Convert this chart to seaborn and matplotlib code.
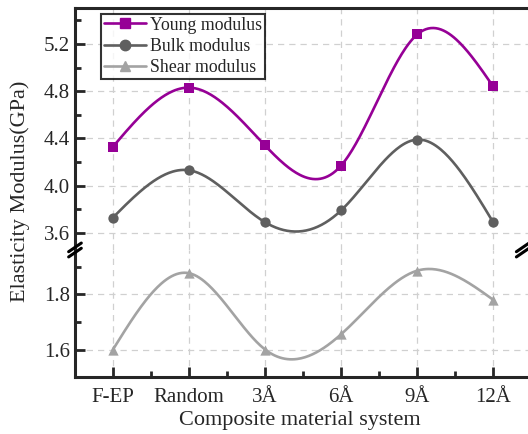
import numpy as np
import pandas as pd
import matplotlib
matplotlib.use("Agg")
import matplotlib.pyplot as plt
from matplotlib.lines import Line2D
from matplotlib.ticker import MultipleLocator
import seaborn as sns

# data
systems = ["F-EP", "Random", "3Å", "6Å", "9Å", "12Å"]
young = [4.33, 4.83, 4.34, 4.17, 5.28, 4.84]
bulk = [3.73, 4.13, 3.69, 3.79, 4.39, 3.69]
shear = [1.60, 1.876, 1.60, 1.655, 1.885, 1.78]

colors = {"Young modulus": "#960096", "Bulk modulus": "#5f5f5f", "Shear modulus": "#a3a3a3"}
markers = {"Young modulus": "s", "Bulk modulus": "o", "Shear modulus": "^"}


def natural_spline(x, y, n=300):
    # plain natural cubic spline, no scipy needed
    x = np.asarray(x, float)
    y = np.asarray(y, float)
    k = len(x)
    h = np.diff(x)
    A = np.zeros((k, k))
    r = np.zeros(k)
    A[0, 0] = A[-1, -1] = 1
    for i in range(1, k - 1):
        A[i, i - 1] = h[i - 1]
        A[i, i] = 2 * (h[i - 1] + h[i])
        A[i, i + 1] = h[i]
        r[i] = 3 * ((y[i + 1] - y[i]) / h[i] - (y[i] - y[i - 1]) / h[i - 1])
    c = np.linalg.solve(A, r)
    xs = np.linspace(x[0], x[-1], n)
    ys = np.empty_like(xs)
    for j, xv in enumerate(xs):
        i = min(np.searchsorted(x, xv, side="right") - 1, k - 2)
        b = (y[i + 1] - y[i]) / h[i] - h[i] * (2 * c[i] + c[i + 1]) / 3
        d = (c[i + 1] - c[i]) / (3 * h[i])
        t = xv - x[i]
        ys[j] = y[i] + b * t + c[i] * t ** 2 + d * t ** 3
    return xs, ys


sns.set_style("ticks")
plt.rcParams["font.family"] = ["Liberation Serif", "DejaVu Serif"]
plt.rcParams["xtick.direction"] = "in"
plt.rcParams["ytick.direction"] = "in"

fig = plt.figure(figsize=(5.28, 4.34), dpi=100)
ax_top = fig.add_axes([0.142, 0.424, 0.864, 0.558])
ax_bot = fig.add_axes([0.142, 0.131, 0.864, 0.293])

xpos = np.arange(len(systems))
series = [("Young modulus", young, ax_top), ("Bulk modulus", bulk, ax_top),
          ("Shear modulus", shear, ax_bot)]

for name, vals, ax in series:
    xs, ys = natural_spline(xpos, vals)
    curve = pd.DataFrame({"x": xs, "y": ys})
    pts = pd.DataFrame({"x": xpos, "y": vals})
    sns.lineplot(data=curve, x="x", y="y", ax=ax, color=colors[name], linewidth=1.9,
                 sort=False, estimator=None)
    sns.scatterplot(data=pts, x="x", y="y", ax=ax, color=colors[name],
                    marker=markers[name], s=55, edgecolor=colors[name], linewidth=0, zorder=5)

for ax in (ax_top, ax_bot):
    ax.set_xlim(-0.5, 5.5)
    ax.set_xlabel("")
    ax.set_ylabel("")
    ax.set_xticks(xpos)
    ax.xaxis.set_minor_locator(MultipleLocator(0.5))
    ax.grid(True, which="major", color="#d0d0d0", linestyle=(0, (5, 4)), linewidth=0.9)
    ax.spines["right"].set_visible(False)
    ax.tick_params(axis="both", which="major", length=7, width=2, labelsize=15)
    ax.tick_params(axis="both", which="minor", length=4, width=2)
    for s in ax.spines.values():
        s.set_linewidth(2.2)

ax_top.set_ylim(3.455, 5.506)
ax_top.set_yticks([3.6, 4.0, 4.4, 4.8, 5.2])
ax_top.yaxis.set_minor_locator(MultipleLocator(0.2))
ax_top.spines["bottom"].set_visible(False)
ax_top.tick_params(axis="x", which="both", bottom=False, labelbottom=False)

ax_bot.set_ylim(1.5, 1.96)
ax_bot.set_yticks([1.6, 1.8])
ax_bot.yaxis.set_minor_locator(MultipleLocator(0.1))
ax_bot.spines["top"].set_visible(False)
ax_bot.set_xticklabels(systems)
ax_bot.tick_params(axis="x", pad=8)

# break marks on the y axis
for xf in (0.142, 0.99):
    for dy in (-0.006, 0.006):
        fig.add_artist(Line2D([xf - 0.012, xf + 0.012], [0.424 + dy - 0.01, 0.424 + dy + 0.01],
                              color="black", linewidth=2.2,
                              transform=fig.transFigure, clip_on=False))

handles = [Line2D([], [], color=colors[n], marker=markers[n], markersize=7.5, linewidth=1.9)
           for n in colors]
leg = ax_top.legend(handles, list(colors), loc="upper left", bbox_to_anchor=(0.057, 0.975),
                    borderaxespad=0, fontsize=12.8, frameon=True, fancybox=False,
                    edgecolor="black", handlelength=2.4, handletextpad=0.2,
                    borderpad=0.15, labelspacing=0.25)
leg.get_frame().set_linewidth(1.5)

fig.text(0.038, 0.56, "Elasticity Modulus(GPa)", rotation=90, ha="center", va="center",
         fontsize=16)
fig.text(0.568, 0.032, "Composite material system", ha="center", va="center", fontsize=16)

fig.savefig("out.png", dpi=100)
